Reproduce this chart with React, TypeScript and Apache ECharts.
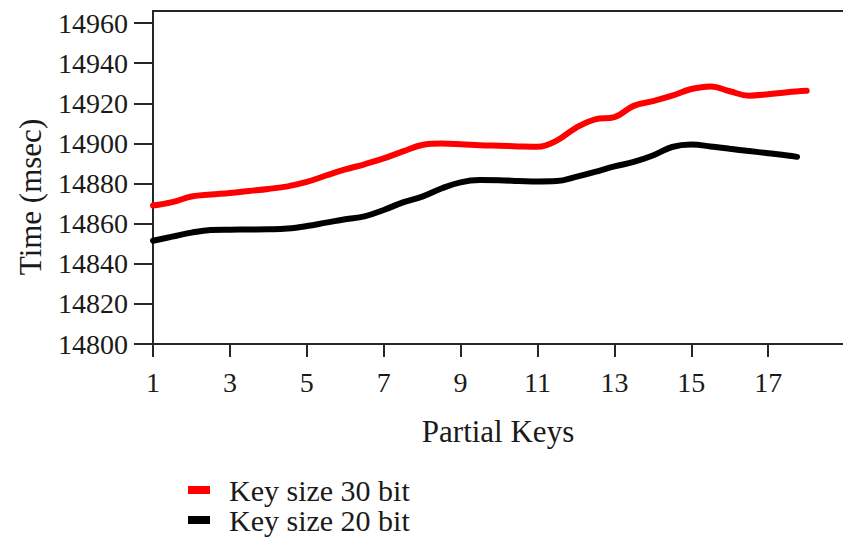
import React, { useEffect, useRef } from "react";
import * as echarts from "echarts";

const seriesNames = ["Key size 30 bit", "Key size 20 bit"];
const seriesColors = ["#ff0000", "#000000"];

const keys30 = [1, 1.5, 2, 2.5, 3, 3.5, 4, 4.5, 5, 5.5, 6, 6.5, 7, 7.5, 8, 8.5, 9, 9.5, 10, 10.5, 11, 11.5, 12, 12.5, 13, 13.5, 14, 14.5, 15, 15.5, 16, 16.5, 17, 17.5, 18];
const time30 = [14869, 14870.7, 14873.5, 14874.5, 14875.3, 14876.3, 14877.3, 14878.6, 14880.8, 14884, 14887, 14889.6, 14892.5, 14896, 14899.2, 14899.9, 14899.6, 14899.1, 14898.8, 14898.5, 14898.3, 14901.4, 14907.8, 14912, 14913.1, 14918.7, 14921.1, 14923.8, 14927.1, 14928.4, 14926, 14923.8, 14924.5, 14925.5, 14926.2];

const keys20 = [1, 1.5, 2, 2.5, 3, 3.5, 4, 4.5, 5, 5.5, 6, 6.5, 7, 7.5, 8, 8.5, 9, 9.5, 10, 10.5, 11, 11.5, 12, 12.5, 13, 13.5, 14, 14.5, 15, 15.5, 16, 16.5, 17, 17.5, 17.75];
const time20 = [14851.5, 14853.5, 14855.5, 14856.8, 14857, 14857.1, 14857.2, 14857.6, 14858.8, 14860.5, 14862.2, 14863.6, 14866.8, 14870.6, 14873.5, 14877.5, 14880.6, 14881.7, 14881.6, 14881.3, 14881, 14881.2, 14883.3, 14885.8, 14888.5, 14890.8, 14894, 14898.2, 14899.4, 14898.5, 14897.3, 14896.2, 14895.1, 14894, 14893.3];

const xFirst = 1;
const xLast = 18.945;
const xStep = 2;
const yMin = 14800;
const yMax = 14966;
const yStep = 20;

const xTitle = "Partial Keys";
const yTitle = "Time (msec)";

const FONT = "'Liberation Serif', 'Times New Roman', serif";

export default function App() {
  const ref = useRef<HTMLDivElement>(null);
  useEffect(() => {
    if (!ref.current) return;
    const chart = echarts.init(ref.current, null, { renderer: "svg" });
    const toPairs = (xs: number[], ys: number[]) => xs.map((x, i) => [x - xFirst, ys[i]]);
    const axisColor = "#262626";
    const legendTops = [470, 500];
    chart.setOption({
      animation: false,
      backgroundColor: "#ffffff",
      textStyle: { fontFamily: FONT },
      grid: {
        left: 153,
        right: 0,
        top: 11,
        bottom: 198,
        containLabel: false,
        outerBoundsMode: "none",
      },
      legend: seriesNames.map((n, i) => ({
        orient: "vertical",
        left: 183,
        top: legendTops[i],
        itemWidth: 22,
        itemHeight: 8,
        icon: "rect",
        selectedMode: false,
        data: [{ name: n, itemStyle: { color: seriesColors[i] } }],
        textStyle: {
          fontFamily: FONT,
          fontSize: 30,
          color: "#1a1a1a",
          padding: [0, 0, 0, 14],
        },
      })),
      xAxis: [
        {
          type: "value",
          min: 0,
          max: xLast - xFirst,
          interval: xStep,
          splitLine: { show: false },
          axisLine: { show: true, onZero: false, lineStyle: { color: axisColor, width: 2 } },
          axisTick: { show: true, inside: false, length: 13, lineStyle: { color: axisColor, width: 2 } },
          axisLabel: {
            margin: 24,
            fontFamily: FONT,
            fontSize: 28,
            color: "#1a1a1a",
            showMaxLabel: false,
            formatter: (v: number) => String(v + xFirst),
          },
          name: xTitle,
          nameLocation: "middle",
          nameGap: 72,
          nameTextStyle: { fontFamily: FONT, fontSize: 31, color: "#1a1a1a" },
        },
        {
          type: "value",
          position: "top",
          min: 0,
          max: 1,
          splitLine: { show: false },
          axisLine: { show: true, onZero: false, lineStyle: { color: axisColor, width: 2 } },
          axisTick: { show: false },
          axisLabel: { show: false },
        },
      ],
      yAxis: {
        type: "value",
        min: yMin,
        max: yMax,
        interval: yStep,
        splitLine: { show: false },
        axisLine: { show: true, onZero: false, lineStyle: { color: axisColor, width: 2 } },
        axisTick: { show: true, inside: false, length: 19, lineStyle: { color: axisColor, width: 2 } },
        axisLabel: {
          margin: 25,
          fontFamily: FONT,
          fontSize: 28,
          color: "#1a1a1a",
          showMaxLabel: false,
          formatter: (v: number) => String(v),
        },
      },
      graphic: [
        {
          type: "text",
          x: 30,
          y: 197,
          rotation: Math.PI / 2,
          style: {
            text: yTitle,
            fontFamily: FONT,
            fontSize: 31,
            fill: "#1a1a1a",
            align: "center",
            verticalAlign: "middle",
          },
        },
      ],
      series: [
        {
          name: seriesNames[0],
          type: "line",
          xAxisIndex: 0,
          data: toPairs(keys30, time30),
          smooth: 0.4,
          symbol: "none",
          lineStyle: { color: seriesColors[0], width: 6, cap: "round" },
          itemStyle: { color: seriesColors[0] },
        },
        {
          name: seriesNames[1],
          type: "line",
          xAxisIndex: 0,
          data: toPairs(keys20, time20),
          smooth: 0.4,
          symbol: "none",
          lineStyle: { color: seriesColors[1], width: 6, cap: "round" },
          itemStyle: { color: seriesColors[1] },
        },
      ],
    });
    return () => chart.dispose();
  }, []);
  return (
    <div
      ref={ref}
      style={{ position: "absolute", left: 0, top: 0, width: 843, height: 542 }}
    />
  );
}
